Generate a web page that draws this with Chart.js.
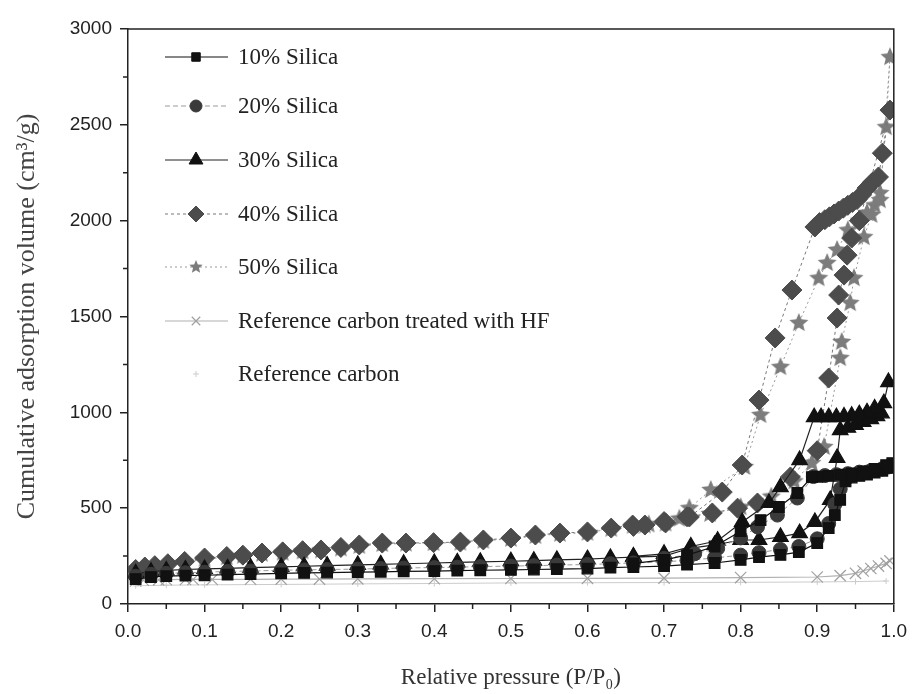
<!DOCTYPE html>
<html>
<head>
<meta charset="utf-8">
<script src="https://cdn.jsdelivr.net/npm/chart.js@4.4.1/dist/chart.umd.min.js"></script>
<style>
  html, body { margin: 0; background: #fff; }
</style>
</head>
<body>
<canvas id="isoChart" width="915" height="694"></canvas>
<script>
// Relative pressure (P/P0) and cumulative adsorption volume (cm3/g), adsorption then desorption
const p10 = [0.01,0.03,0.05,0.075,0.1,0.13,0.16,0.2,0.23,0.26,0.3,0.33,0.36,0.4,0.43,0.46,0.5,0.53,0.56,0.6,0.63,0.66,0.7,0.73,0.766,0.8,0.824,0.852,0.876,0.9,0.915,0.923,0.93,0.937,0.945,0.955,0.965,0.975,0.985,0.993,0.998,
             0.99,0.975,0.96,0.945,0.93,0.915,0.9,0.893,0.874,0.85,0.826,0.8,0.766,0.73,0.7,0.66];
const v10 = [130,140,145,148,150,153,156,160,162,164,166,168,170,172,174,176,178,180,182,185,190,193,198,205,214,230,245,256,271,318,396,464,543,640,660,668,675,685,695,710,735,
             725,705,692,682,675,668,664,662,579,506,438,380,300,255,230,212];

const p20 = [0.01,0.03,0.05,0.075,0.1,0.13,0.16,0.2,0.23,0.26,0.3,0.33,0.36,0.4,0.43,0.46,0.5,0.53,0.56,0.6,0.63,0.66,0.7,0.73,0.766,0.8,0.824,0.852,0.876,0.9,0.915,0.923,0.93,0.937,0.945,0.955,0.965,0.975,0.985,0.993,
             0.985,0.97,0.955,0.94,0.925,0.91,0.895,0.874,0.848,0.822,0.8,0.77,0.74,0.7];
const v20 = [145,155,160,163,166,170,172,176,178,180,182,185,188,190,192,195,198,200,203,206,210,214,220,228,240,255,268,285,300,340,420,520,600,650,672,680,688,696,705,715,
             705,695,688,680,675,670,665,553,464,402,345,290,262,238];

const p30 = [0.01,0.03,0.05,0.075,0.1,0.13,0.16,0.2,0.23,0.26,0.3,0.33,0.36,0.4,0.43,0.46,0.5,0.53,0.56,0.6,0.63,0.66,0.7,0.735,0.766,0.8,0.824,0.852,0.877,0.897,0.917,0.926,0.93,0.94,0.95,0.96,0.97,0.978,0.984,0.993,
             0.987,0.975,0.965,0.955,0.945,0.935,0.925,0.915,0.905,0.896,0.877,0.852,0.837,0.802,0.77,0.735,0.7,0.66];
const v30 = [160,168,175,180,183,186,190,194,197,200,204,207,210,214,217,220,223,226,230,234,240,245,250,292,308,334,334,350,370,428,543,762,907,920,935,950,965,980,995,1158,
             1048,1020,1000,990,982,978,975,975,975,975,751,610,527,428,330,300,262,248];

const p40 = [0.01,0.022,0.035,0.052,0.074,0.1,0.129,0.15,0.175,0.202,0.228,0.252,0.278,0.302,0.332,0.363,0.399,0.434,0.464,0.5,0.532,0.564,0.6,0.631,0.659,0.675,0.702,0.733,0.776,0.802,0.824,0.845,0.867,0.897,0.903,0.91,0.916,0.922,0.928,0.934,0.94,0.946,0.952,0.958,0.965,0.972,0.98,0.985,0.995,
             0.955,0.945,0.939,0.935,0.928,0.926,0.915,0.9,0.865,0.822,0.796,0.763,0.73,0.7,0.66];
const v40 = [180,193,200,210,222,240,248,255,266,272,278,282,295,308,318,318,320,323,334,344,360,370,376,396,412,412,423,454,584,725,1064,1388,1638,1967,1990,2005,2020,2035,2050,2065,2080,2095,2110,2135,2170,2200,2228,2352,2577,
             2000,1909,1820,1716,1612,1492,1179,800,663,527,500,475,455,430,405];

const p50 = [0.01,0.022,0.035,0.052,0.074,0.1,0.129,0.15,0.175,0.202,0.228,0.252,0.278,0.302,0.332,0.363,0.399,0.434,0.464,0.5,0.532,0.564,0.6,0.631,0.659,0.675,0.702,0.733,0.761,0.805,0.826,0.852,0.876,0.902,0.913,0.926,0.94,0.955,0.965,0.975,0.982,0.99,0.995,
             0.982,0.971,0.961,0.948,0.943,0.932,0.93,0.909,0.893,0.87,0.84,0.8,0.76,0.72,0.68];
const v50 = [175,188,196,205,218,235,244,252,262,268,275,280,290,303,313,315,318,320,330,340,355,366,372,392,408,410,420,500,595,715,986,1236,1466,1700,1779,1847,1950,2000,2040,2080,2144,2488,2853,
             2107,2030,1914,1700,1570,1367,1283,819,735,640,560,505,470,445,415];

const pHF = [0.01,0.02,0.04,0.05,0.075,0.085,0.11,0.16,0.2,0.25,0.3,0.4,0.5,0.6,0.7,0.8,0.9,0.93,0.95,0.96,0.97,0.98,0.99,0.995];
const vHF = [120,124,126,127,128,128,128,129,130,130,131,132,133,134,135,138,141,148,160,172,185,198,212,225];

const pRef = [0.01,0.05,0.1,0.2,0.3,0.4,0.5,0.6,0.7,0.8,0.9,0.95,0.99];
const vRef = [95,98,100,102,105,107,110,111,112,113,115,117,120];

const seriesNames = ['10% Silica','20% Silica','30% Silica','40% Silica','50% Silica','Reference carbon treated with HF','Reference carbon'];

const toXY = (ps, vs) => ps.map((p, i) => ({ x: p, y: vs[i] }));

function starImage(r, fill) {
    const c = document.createElement('canvas');
    c.width = c.height = r * 2 + 2;
    const g = c.getContext('2d');
    g.beginPath();
    for (let i = 0; i < 10; i++) {
        const rr = i % 2 === 0 ? r : r * 0.45;
        const a = -Math.PI / 2 + i * Math.PI / 5;
        g.lineTo(r + 1 + rr * Math.cos(a), r + 1 + rr * Math.sin(a));
    }
    g.closePath();
    g.fillStyle = fill;
    g.fill();
    return c;
}
const starBig = starImage(10, '#7c7c7c');
const starSmall = starImage(7, '#7c7c7c');

const serif = 'Liberation Serif, Times New Roman, serif';
const sans = 'Liberation Sans, Arial, sans-serif';

const datasets = [
    { label: seriesNames[0], data: toXY(p10, v10), pointStyle: 'rect', pointRadius: 7.5,
      backgroundColor: '#111', borderColor: '#111', pointBorderColor: '#111', borderWidth: 1.2, legendRadius: 6 },
    { label: seriesNames[1], data: toXY(p20, v20), pointStyle: 'circle', pointRadius: 7,
      backgroundColor: '#3a3a3a', borderColor: '#9a9a9a', pointBorderColor: '#3a3a3a', borderWidth: 1, borderDash: [5, 3], legendRadius: 6 },
    { label: seriesNames[2], data: toXY(p30, v30), pointStyle: 'triangle', pointRadius: 9,
      backgroundColor: '#111', borderColor: '#222', pointBorderColor: '#111', borderWidth: 1.2, legendRadius: 8 },
    { label: seriesNames[3], data: toXY(p40, v40), pointStyle: 'rectRot', pointRadius: 10,
      backgroundColor: '#4c4c4c', borderColor: '#777', pointBorderColor: '#4c4c4c', borderWidth: 1, borderDash: [3, 3], legendRadius: 8 },
    { label: seriesNames[4], data: toXY(p50, v50), pointStyle: starBig, pointRadius: 10,
      backgroundColor: '#7c7c7c', borderColor: '#999', pointBorderColor: '#7c7c7c', borderWidth: 1, borderDash: [2, 3], legendStyle: starSmall },
    { label: seriesNames[5], data: toXY(pHF, vHF), pointStyle: 'crossRot', pointRadius: 8,
      backgroundColor: '#a0a0a0', borderColor: '#b0b0b0', pointBorderColor: '#a0a0a0', borderWidth: 1.2, pointBorderWidth: 1.2, legendRadius: 6 },
    { label: seriesNames[6], data: toXY(pRef, vRef), pointStyle: 'cross', pointRadius: 3,
      backgroundColor: '#ccc', borderColor: '#ccc', pointBorderColor: '#ccc', borderWidth: 1, legendRadius: 3, noLegendLine: true }
];

// outer frame + minor ticks
const framePlugin = {
    id: 'frame',
    afterDraw(chart) {
        const { ctx, chartArea: a, scales: { x, y } } = chart;
        ctx.save();
        ctx.strokeStyle = '#222';
        ctx.lineWidth = 1.5;
        ctx.beginPath();
        ctx.moveTo(a.left, a.top);
        ctx.lineTo(a.right, a.top);
        ctx.lineTo(a.right, a.bottom);
        for (let i = 0; i < 10; i++) {
            const px = x.getPixelForValue(0.05 + i * 0.1);
            ctx.moveTo(px, a.bottom);
            ctx.lineTo(px, a.bottom + 5);
        }
        for (let i = 0; i < 6; i++) {
            const py = y.getPixelForValue(250 + i * 500);
            ctx.moveTo(a.left, py);
            ctx.lineTo(a.left - 5, py);
        }
        ctx.stroke();
        ctx.restore();
    }
};

// legend drawn as line-marker-line rows inside the plot
const legendPlugin = {
    id: 'rowLegend',
    afterDraw(chart) {
        const ctx = chart.ctx;
        const rowsY = [57, 106, 160, 214, 267, 321, 374];
        ctx.save();
        chart.data.datasets.forEach((ds, i) => {
            const yy = rowsY[i];
            if (!ds.noLegendLine) {
                ctx.strokeStyle = ds.borderColor;
                ctx.lineWidth = ds.borderWidth;
                ctx.setLineDash(ds.borderDash || []);
                ctx.beginPath();
                ctx.moveTo(165, yy);
                ctx.lineTo(228, yy);
                ctx.stroke();
                ctx.setLineDash([]);
            }
            // drawPoint uses the current fill/stroke
            ctx.fillStyle = ds.backgroundColor;
            ctx.strokeStyle = ds.pointBorderColor;
            ctx.lineWidth = ds.pointBorderWidth || 1;
            Chart.helpers.drawPoint(ctx, {
                pointStyle: ds.legendStyle || ds.pointStyle,
                radius: ds.legendRadius || 6,
                rotation: 0,
                borderWidth: ds.pointBorderWidth || 1
            }, 196, yy);
            ctx.fillStyle = '#222';
            ctx.font = '23px ' + serif;
            ctx.textBaseline = 'middle';
            ctx.fillText(ds.label, 238, yy + 1);
        });
        ctx.restore();
    }
};

new Chart(document.getElementById('isoChart'), {
    type: 'scatter',
    data: { datasets: datasets },
    options: {
        responsive: false,
        animation: false,
        showLine: true,
        layout: { padding: { top: 29, right: 18, left: 0, bottom: 0 } },
        elements: { line: { tension: 0 } },
        plugins: { legend: { display: false }, tooltip: { enabled: false } },
        scales: {
            x: {
                type: 'linear', min: 0, max: 1,
                afterFit(s) { s.height = 90; },
                ticks: { stepSize: 0.1, callback: v => v.toFixed(1), color: '#222', padding: 8,
                         font: { family: sans, size: 19 }, maxRotation: 0 },
                grid: { drawOnChartArea: false, tickLength: 8, color: '#222', lineWidth: 1.5 },
                border: { color: '#222', width: 1.5 },
                title: { display: true, text: 'Relative pressure (P/P\u2080)', color: '#333',
                         font: { family: serif, size: 23 }, padding: { top: 0, bottom: 2 } }
            },
            y: {
                type: 'linear', min: 0, max: 3000,
                afterFit(s) { s.width = 128; },
                ticks: { stepSize: 500, callback: v => String(v), color: '#222', padding: 8,
                         font: { family: sans, size: 19 } },
                grid: { drawOnChartArea: false, tickLength: 8, color: '#222', lineWidth: 1.5 },
                border: { color: '#222', width: 1.5 },
                title: { display: true, text: 'Cumulative adsorption volume (cm\u00b3/g)', color: '#444',
                         font: { family: serif, size: 26 }, padding: { top: 12, bottom: 0 } }
            }
        }
    },
    plugins: [framePlugin, legendPlugin]
});
</script>
</body>
</html>
